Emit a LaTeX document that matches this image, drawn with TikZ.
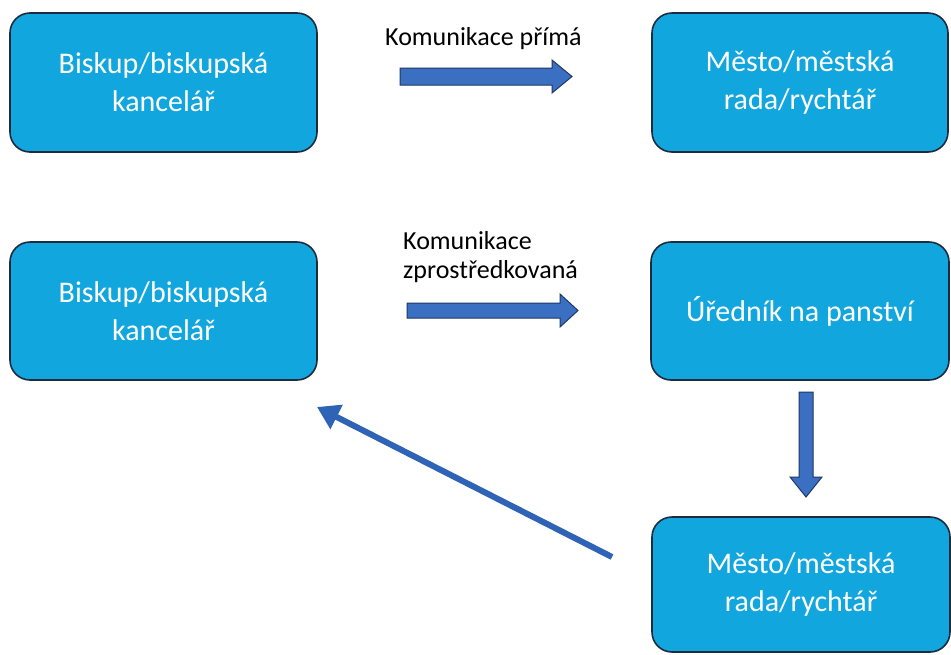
\documentclass[tikz,border=0pt]{standalone}
\usepackage{fontspec}
\setmainfont{Carlito}
\usetikzlibrary{arrows.meta}
\definecolor{boxfill}{HTML}{12A6DF}
\definecolor{boxline}{HTML}{1D2B3C}
\definecolor{arrfill}{HTML}{3A6FC2}
\definecolor{arrline}{HTML}{1F3864}
\definecolor{diag}{HTML}{2E63B5}
\tikzset{
  box/.style={draw=boxline, line width=1.6pt, fill=boxfill, rounded corners=20pt,
    text=white, align=center, font=\fontsize{30}{38}\selectfont, inner sep=0pt},
  lbl/.style={text=black, align=left, font=\fontsize{26}{29}\selectfont, inner sep=0pt},
  blockarr/.style={fill=arrfill, draw=arrline, line width=1pt, line join=miter}
}
\begin{document}
\begin{tikzpicture}[x=1pt,y=-1pt]
\useasboundingbox[fill=white] (0,0) rectangle (951,654);
% boxes
\node[box, minimum width=307pt, minimum height=139pt] (b1) at (163.5,82.5) {Biskup/biskupská\\kancelář};
\node[box, minimum width=296pt, minimum height=139pt] (m1) at (800,82.5) {Město/městská\\rada/rychtář};
\node[box, minimum width=307pt, minimum height=138pt] (b2) at (163.5,311) {Biskup/biskupská\\kancelář};
\node[box, minimum width=298pt, minimum height=138pt] (u) at (800,311) {Úředník na panství};
\node[box, minimum width=298pt, minimum height=135pt] (m2) at (801,584.5) {Město/městská\\rada/rychtář};
% labels
\node[lbl, anchor=base west] (l1) at (385,45) {Komunikace přímá};
\node[lbl, anchor=north west] (l2) at (403,231) {Komunikace\\zprostředkovaná};
% block arrows
\draw[blockarr] (400,68) -- (552,68) -- (552,60) -- (572,76.5) -- (552,93) -- (552,85) -- (400,85) -- cycle;
\draw[blockarr] (407,303) -- (560,303) -- (560,294) -- (578,310.5) -- (560,327) -- (560,318) -- (407,318) -- cycle;
\draw[blockarr] (799,392) -- (813,392) -- (813,477) -- (822,477) -- (806,497) -- (790,477) -- (799,477) -- cycle;
% diagonal arrow
\coordinate (ds) at (612,557);
\coordinate (de) at (317,407);
\draw[diag, line width=6pt, -{Triangle[length=22pt,width=26pt]}] (ds) -- (de);
\end{tikzpicture}
\end{document}
